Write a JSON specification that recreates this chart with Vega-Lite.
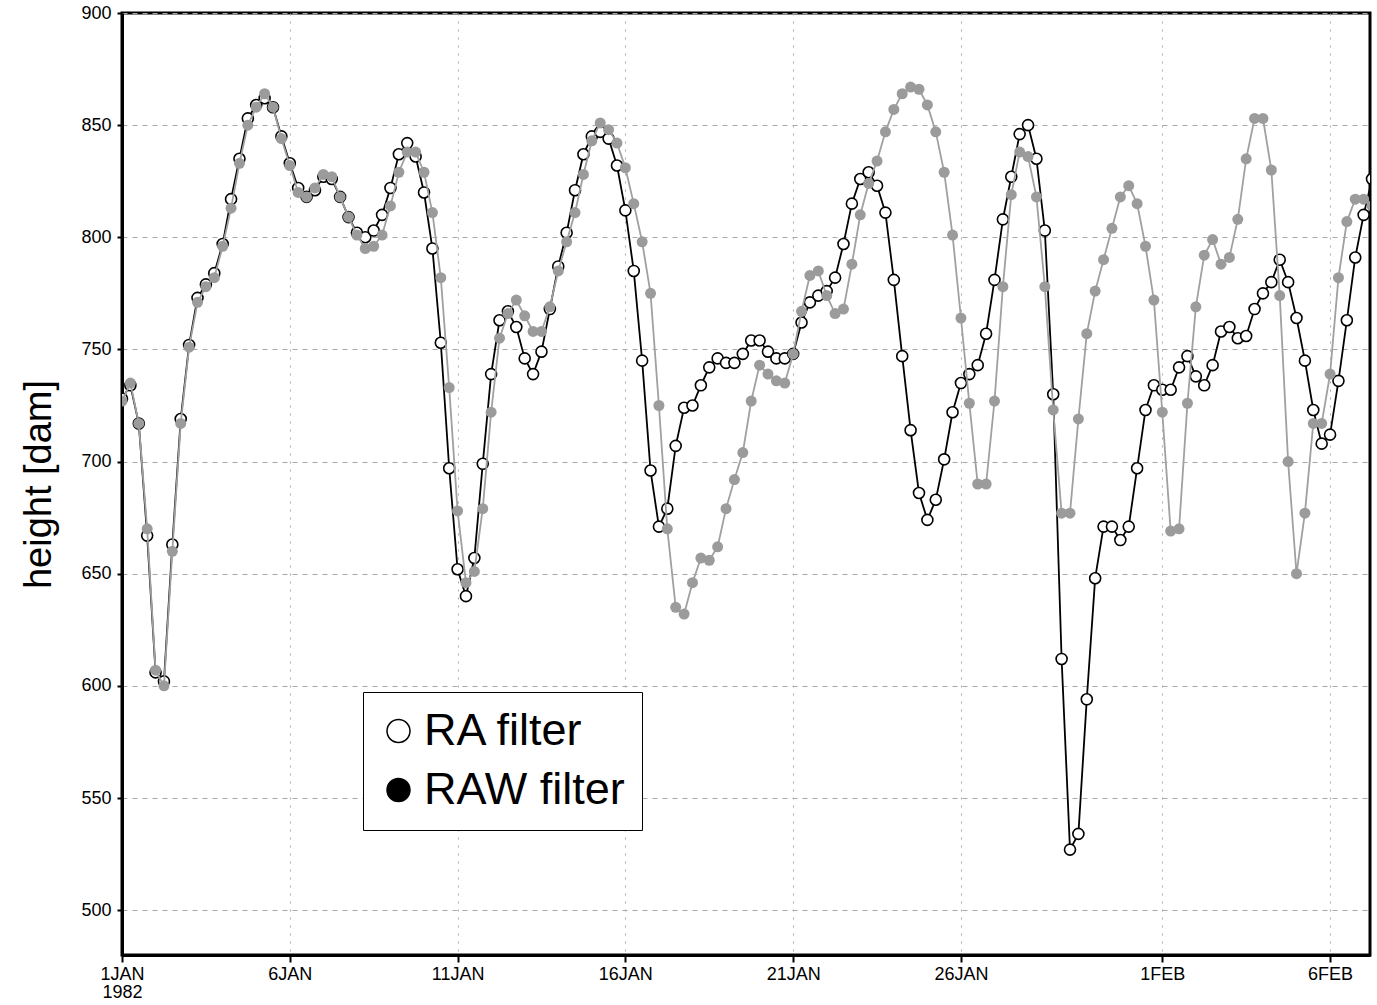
{
  "$schema": "https://vega.github.io/schema/vega-lite/v6.json",
  "width": 1248,
  "height": 942,
  "autosize": "none",
  "padding": {"left": 122, "top": 13, "right": 7, "bottom": 50},
  "background": "white",
  "config": {
    "font": "Liberation Sans",
    "view": {"stroke": "black", "strokeWidth": 3},
    "axis": {
      "domainColor": "black", "domainWidth": 3, "tickColor": "black", "tickWidth": 2,
      "labelColor": "black", "labelFont": "Liberation Sans", "labelFontSize": 18,
      "gridColor": "#a8a8a8", "gridWidth": 1
    }
  },
  "data": {"values": [
{"t":0,"s":"RA filter","h":728},{"t":0.25,"s":"RA filter","h":734},{"t":0.5,"s":"RA filter","h":717},{"t":0.75,"s":"RA filter","h":667},{"t":1,"s":"RA filter","h":606},{"t":1.25,"s":"RA filter","h":602},{"t":1.5,"s":"RA filter","h":663},{"t":1.75,"s":"RA filter","h":719},{"t":2,"s":"RA filter","h":752},{"t":2.25,"s":"RA filter","h":773},
{"t":2.5,"s":"RA filter","h":779},{"t":2.75,"s":"RA filter","h":784},{"t":3,"s":"RA filter","h":797},{"t":3.25,"s":"RA filter","h":817},{"t":3.5,"s":"RA filter","h":835},{"t":3.75,"s":"RA filter","h":853},{"t":4,"s":"RA filter","h":859},{"t":4.25,"s":"RA filter","h":862},{"t":4.5,"s":"RA filter","h":858},{"t":4.75,"s":"RA filter","h":845},
{"t":5,"s":"RA filter","h":833},{"t":5.25,"s":"RA filter","h":822},{"t":5.5,"s":"RA filter","h":818},{"t":5.75,"s":"RA filter","h":821},{"t":6,"s":"RA filter","h":827},{"t":6.25,"s":"RA filter","h":826},{"t":6.5,"s":"RA filter","h":818},{"t":6.75,"s":"RA filter","h":809},{"t":7,"s":"RA filter","h":802},{"t":7.25,"s":"RA filter","h":800},
{"t":7.5,"s":"RA filter","h":803},{"t":7.75,"s":"RA filter","h":810},{"t":8,"s":"RA filter","h":822},{"t":8.25,"s":"RA filter","h":837},{"t":8.5,"s":"RA filter","h":842},{"t":8.75,"s":"RA filter","h":836},{"t":9,"s":"RA filter","h":820},{"t":9.25,"s":"RA filter","h":795},{"t":9.5,"s":"RA filter","h":753},{"t":9.75,"s":"RA filter","h":697},
{"t":10,"s":"RA filter","h":652},{"t":10.25,"s":"RA filter","h":640},{"t":10.5,"s":"RA filter","h":657},{"t":10.75,"s":"RA filter","h":699},{"t":11,"s":"RA filter","h":739},{"t":11.25,"s":"RA filter","h":763},{"t":11.5,"s":"RA filter","h":767},{"t":11.75,"s":"RA filter","h":760},{"t":12,"s":"RA filter","h":746},{"t":12.25,"s":"RA filter","h":739},
{"t":12.5,"s":"RA filter","h":749},{"t":12.75,"s":"RA filter","h":768},{"t":13,"s":"RA filter","h":787},{"t":13.25,"s":"RA filter","h":802},{"t":13.5,"s":"RA filter","h":821},{"t":13.75,"s":"RA filter","h":837},{"t":14,"s":"RA filter","h":845},{"t":14.25,"s":"RA filter","h":847},{"t":14.5,"s":"RA filter","h":844},{"t":14.75,"s":"RA filter","h":832},
{"t":15,"s":"RA filter","h":812},{"t":15.25,"s":"RA filter","h":785},{"t":15.5,"s":"RA filter","h":745},{"t":15.75,"s":"RA filter","h":696},{"t":16,"s":"RA filter","h":671},{"t":16.25,"s":"RA filter","h":679},{"t":16.5,"s":"RA filter","h":707},{"t":16.75,"s":"RA filter","h":724},{"t":17,"s":"RA filter","h":725},{"t":17.25,"s":"RA filter","h":734},
{"t":17.5,"s":"RA filter","h":742},{"t":17.75,"s":"RA filter","h":746},{"t":18,"s":"RA filter","h":744},{"t":18.25,"s":"RA filter","h":744},{"t":18.5,"s":"RA filter","h":748},{"t":18.75,"s":"RA filter","h":754},{"t":19,"s":"RA filter","h":754},{"t":19.25,"s":"RA filter","h":749},{"t":19.5,"s":"RA filter","h":746},{"t":19.75,"s":"RA filter","h":746},
{"t":20,"s":"RA filter","h":748},{"t":20.25,"s":"RA filter","h":762},{"t":20.5,"s":"RA filter","h":771},{"t":20.75,"s":"RA filter","h":774},{"t":21,"s":"RA filter","h":776},{"t":21.25,"s":"RA filter","h":782},{"t":21.5,"s":"RA filter","h":797},{"t":21.75,"s":"RA filter","h":815},{"t":22,"s":"RA filter","h":826},{"t":22.25,"s":"RA filter","h":829},
{"t":22.5,"s":"RA filter","h":823},{"t":22.75,"s":"RA filter","h":811},{"t":23,"s":"RA filter","h":781},{"t":23.25,"s":"RA filter","h":747},{"t":23.5,"s":"RA filter","h":714},{"t":23.75,"s":"RA filter","h":686},{"t":24,"s":"RA filter","h":674},{"t":24.25,"s":"RA filter","h":683},{"t":24.5,"s":"RA filter","h":701},{"t":24.75,"s":"RA filter","h":722},
{"t":25,"s":"RA filter","h":735},{"t":25.25,"s":"RA filter","h":739},{"t":25.5,"s":"RA filter","h":743},{"t":25.75,"s":"RA filter","h":757},{"t":26,"s":"RA filter","h":781},{"t":26.25,"s":"RA filter","h":808},{"t":26.5,"s":"RA filter","h":827},{"t":26.75,"s":"RA filter","h":846},{"t":27,"s":"RA filter","h":850},{"t":27.25,"s":"RA filter","h":835},
{"t":27.5,"s":"RA filter","h":803},{"t":27.75,"s":"RA filter","h":730},{"t":28,"s":"RA filter","h":612},{"t":28.25,"s":"RA filter","h":527},{"t":28.5,"s":"RA filter","h":534},{"t":28.75,"s":"RA filter","h":594},{"t":29,"s":"RA filter","h":648},{"t":29.25,"s":"RA filter","h":671},{"t":29.5,"s":"RA filter","h":671},{"t":29.75,"s":"RA filter","h":665},
{"t":30,"s":"RA filter","h":671},{"t":30.25,"s":"RA filter","h":697},{"t":30.5,"s":"RA filter","h":723},{"t":30.75,"s":"RA filter","h":734},{"t":31,"s":"RA filter","h":732},{"t":31.25,"s":"RA filter","h":732},{"t":31.5,"s":"RA filter","h":742},{"t":31.75,"s":"RA filter","h":747},{"t":32,"s":"RA filter","h":738},{"t":32.25,"s":"RA filter","h":734},
{"t":32.5,"s":"RA filter","h":743},{"t":32.75,"s":"RA filter","h":758},{"t":33,"s":"RA filter","h":760},{"t":33.25,"s":"RA filter","h":755},{"t":33.5,"s":"RA filter","h":756},{"t":33.75,"s":"RA filter","h":768},{"t":34,"s":"RA filter","h":775},{"t":34.25,"s":"RA filter","h":780},{"t":34.5,"s":"RA filter","h":790},{"t":34.75,"s":"RA filter","h":780},
{"t":35,"s":"RA filter","h":764},{"t":35.25,"s":"RA filter","h":745},{"t":35.5,"s":"RA filter","h":723},{"t":35.75,"s":"RA filter","h":708},{"t":36,"s":"RA filter","h":712},{"t":36.25,"s":"RA filter","h":736},{"t":36.5,"s":"RA filter","h":763},{"t":36.75,"s":"RA filter","h":791},{"t":37,"s":"RA filter","h":810},{"t":37.25,"s":"RA filter","h":826},
{"t":0,"s":"RAW filter","h":727},{"t":0.25,"s":"RAW filter","h":735},{"t":0.5,"s":"RAW filter","h":717},{"t":0.75,"s":"RAW filter","h":670},{"t":1,"s":"RAW filter","h":607},{"t":1.25,"s":"RAW filter","h":600},{"t":1.5,"s":"RAW filter","h":660},{"t":1.75,"s":"RAW filter","h":717},{"t":2,"s":"RAW filter","h":751},{"t":2.25,"s":"RAW filter","h":771},
{"t":2.5,"s":"RAW filter","h":778},{"t":2.75,"s":"RAW filter","h":782},{"t":3,"s":"RAW filter","h":796},{"t":3.25,"s":"RAW filter","h":813},{"t":3.5,"s":"RAW filter","h":833},{"t":3.75,"s":"RAW filter","h":850},{"t":4,"s":"RAW filter","h":858},{"t":4.25,"s":"RAW filter","h":864},{"t":4.5,"s":"RAW filter","h":858},{"t":4.75,"s":"RAW filter","h":844},
{"t":5,"s":"RAW filter","h":832},{"t":5.25,"s":"RAW filter","h":820},{"t":5.5,"s":"RAW filter","h":818},{"t":5.75,"s":"RAW filter","h":822},{"t":6,"s":"RAW filter","h":828},{"t":6.25,"s":"RAW filter","h":827},{"t":6.5,"s":"RAW filter","h":818},{"t":6.75,"s":"RAW filter","h":809},{"t":7,"s":"RAW filter","h":801},{"t":7.25,"s":"RAW filter","h":795},
{"t":7.5,"s":"RAW filter","h":796},{"t":7.75,"s":"RAW filter","h":801},{"t":8,"s":"RAW filter","h":814},{"t":8.25,"s":"RAW filter","h":829},{"t":8.5,"s":"RAW filter","h":838},{"t":8.75,"s":"RAW filter","h":838},{"t":9,"s":"RAW filter","h":829},{"t":9.25,"s":"RAW filter","h":811},{"t":9.5,"s":"RAW filter","h":782},{"t":9.75,"s":"RAW filter","h":733},
{"t":10,"s":"RAW filter","h":678},{"t":10.25,"s":"RAW filter","h":646},{"t":10.5,"s":"RAW filter","h":651},{"t":10.75,"s":"RAW filter","h":679},{"t":11,"s":"RAW filter","h":722},{"t":11.25,"s":"RAW filter","h":755},{"t":11.5,"s":"RAW filter","h":766},{"t":11.75,"s":"RAW filter","h":772},{"t":12,"s":"RAW filter","h":765},{"t":12.25,"s":"RAW filter","h":758},
{"t":12.5,"s":"RAW filter","h":758},{"t":12.75,"s":"RAW filter","h":769},{"t":13,"s":"RAW filter","h":785},{"t":13.25,"s":"RAW filter","h":798},{"t":13.5,"s":"RAW filter","h":811},{"t":13.75,"s":"RAW filter","h":828},{"t":14,"s":"RAW filter","h":843},{"t":14.25,"s":"RAW filter","h":851},{"t":14.5,"s":"RAW filter","h":848},{"t":14.75,"s":"RAW filter","h":842},
{"t":15,"s":"RAW filter","h":831},{"t":15.25,"s":"RAW filter","h":815},{"t":15.5,"s":"RAW filter","h":798},{"t":15.75,"s":"RAW filter","h":775},{"t":16,"s":"RAW filter","h":725},{"t":16.25,"s":"RAW filter","h":670},{"t":16.5,"s":"RAW filter","h":635},{"t":16.75,"s":"RAW filter","h":632},{"t":17,"s":"RAW filter","h":646},{"t":17.25,"s":"RAW filter","h":657},
{"t":17.5,"s":"RAW filter","h":656},{"t":17.75,"s":"RAW filter","h":662},{"t":18,"s":"RAW filter","h":679},{"t":18.25,"s":"RAW filter","h":692},{"t":18.5,"s":"RAW filter","h":704},{"t":18.75,"s":"RAW filter","h":727},{"t":19,"s":"RAW filter","h":743},{"t":19.25,"s":"RAW filter","h":739},{"t":19.5,"s":"RAW filter","h":736},{"t":19.75,"s":"RAW filter","h":735},
{"t":20,"s":"RAW filter","h":748},{"t":20.25,"s":"RAW filter","h":767},{"t":20.5,"s":"RAW filter","h":783},{"t":20.75,"s":"RAW filter","h":785},{"t":21,"s":"RAW filter","h":774},{"t":21.25,"s":"RAW filter","h":766},{"t":21.5,"s":"RAW filter","h":768},{"t":21.75,"s":"RAW filter","h":788},{"t":22,"s":"RAW filter","h":810},{"t":22.25,"s":"RAW filter","h":824},
{"t":22.5,"s":"RAW filter","h":834},{"t":22.75,"s":"RAW filter","h":847},{"t":23,"s":"RAW filter","h":857},{"t":23.25,"s":"RAW filter","h":864},{"t":23.5,"s":"RAW filter","h":867},{"t":23.75,"s":"RAW filter","h":866},{"t":24,"s":"RAW filter","h":859},{"t":24.25,"s":"RAW filter","h":847},{"t":24.5,"s":"RAW filter","h":829},{"t":24.75,"s":"RAW filter","h":801},
{"t":25,"s":"RAW filter","h":764},{"t":25.25,"s":"RAW filter","h":726},{"t":25.5,"s":"RAW filter","h":690},{"t":25.75,"s":"RAW filter","h":690},{"t":26,"s":"RAW filter","h":727},{"t":26.25,"s":"RAW filter","h":778},{"t":26.5,"s":"RAW filter","h":819},{"t":26.75,"s":"RAW filter","h":838},{"t":27,"s":"RAW filter","h":836},{"t":27.25,"s":"RAW filter","h":818},
{"t":27.5,"s":"RAW filter","h":778},{"t":27.75,"s":"RAW filter","h":723},{"t":28,"s":"RAW filter","h":677},{"t":28.25,"s":"RAW filter","h":677},{"t":28.5,"s":"RAW filter","h":719},{"t":28.75,"s":"RAW filter","h":757},{"t":29,"s":"RAW filter","h":776},{"t":29.25,"s":"RAW filter","h":790},{"t":29.5,"s":"RAW filter","h":804},{"t":29.75,"s":"RAW filter","h":818},
{"t":30,"s":"RAW filter","h":823},{"t":30.25,"s":"RAW filter","h":815},{"t":30.5,"s":"RAW filter","h":796},{"t":30.75,"s":"RAW filter","h":772},{"t":31,"s":"RAW filter","h":722},{"t":31.25,"s":"RAW filter","h":669},{"t":31.5,"s":"RAW filter","h":670},{"t":31.75,"s":"RAW filter","h":726},{"t":32,"s":"RAW filter","h":769},{"t":32.25,"s":"RAW filter","h":792},
{"t":32.5,"s":"RAW filter","h":799},{"t":32.75,"s":"RAW filter","h":788},{"t":33,"s":"RAW filter","h":791},{"t":33.25,"s":"RAW filter","h":808},{"t":33.5,"s":"RAW filter","h":835},{"t":33.75,"s":"RAW filter","h":853},{"t":34,"s":"RAW filter","h":853},{"t":34.25,"s":"RAW filter","h":830},{"t":34.5,"s":"RAW filter","h":774},{"t":34.75,"s":"RAW filter","h":700},
{"t":35,"s":"RAW filter","h":650},{"t":35.25,"s":"RAW filter","h":677},{"t":35.5,"s":"RAW filter","h":717},{"t":35.75,"s":"RAW filter","h":717},{"t":36,"s":"RAW filter","h":739},{"t":36.25,"s":"RAW filter","h":782},{"t":36.5,"s":"RAW filter","h":807},{"t":36.75,"s":"RAW filter","h":817},{"t":37,"s":"RAW filter","h":817},{"t":37.25,"s":"RAW filter","h":814}
  ]},
  "encoding": {
    "x": {
      "field": "t", "type": "quantitative",
      "scale": {"domain": [0, 37.19], "nice": false, "zero": false},
      "axis": {
        "values": [0, 5, 10, 15, 20, 25, 31, 36],
        "title": null,
        "labelExpr": "datum.value == 0 ? ['1JAN', '1982'] : (datum.value < 31 ? (datum.value + 1) + 'JAN' : (datum.value - 30) + 'FEB')",
        "tickSize": 7, "labelPadding": 3, "labelLineHeight": 18,
        "grid": true, "gridDash": [2, 6],
        "labelFlush": false, "labelOverlap": false, "labelBound": false
      }
    },
    "y": {
      "field": "h", "type": "quantitative",
      "scale": {"domain": [480, 900], "nice": false, "zero": false},
      "axis": {
        "values": [500, 550, 600, 650, 700, 750, 800, 850, 900],
        "title": "height  [dam]",
        "titleFont": "Liberation Sans", "titleFontSize": 38, "titleFontWeight": "normal",
        "titleColor": "black", "titlePadding": 22,
        "tickSize": 5, "labelPadding": 6,
        "grid": true, "gridDash": [5, 5]
      }
    }
  },
  "layer": [
    {
      "transform": [{"filter": "datum.s === 'RA filter'"}],
      "mark": {"type": "line", "clip": true, "strokeWidth": 1.8, "color": "black"},
      "encoding": {}
    },
    {
      "transform": [{"filter": "datum.s === 'RA filter'"}],
      "mark": {"type": "point", "shape": "circle", "filled": true, "clip": true, "size": 121, "fill": "white", "stroke": "black", "strokeWidth": 1.6, "opacity": 1},
      "encoding": {}
    },
    {
      "transform": [{"filter": "datum.s === 'RAW filter'"}],
      "mark": {"type": "line", "clip": true, "strokeWidth": 1.8, "color": "#a0a0a0"},
      "encoding": {}
    },
    {
      "transform": [{"filter": "datum.s === 'RAW filter'"}],
      "mark": {"type": "point", "shape": "circle", "filled": true, "clip": true, "size": 121, "fill": "#9b9b9b", "strokeWidth": 0, "opacity": 1},
      "encoding": {}
    },
    {
      "transform": [{"filter": "datum.s === 'none'"}],
      "mark": {"type": "point", "shape": "circle", "filled": true, "stroke": "black", "strokeWidth": 1.5, "opacity": 1},
      "encoding": {
        "fill": {
          "field": "s", "type": "nominal",
          "scale": {"domain": ["RA filter", "RAW filter"], "range": ["white", "black"]},
          "legend": {
            "title": null, "orient": "none", "legendX": 241, "legendY": 679,
            "direction": "vertical", "symbolType": "circle", "symbolSize": 529,
            "symbolStrokeWidth": 1.5, "symbolOffset": -3.5, "symbolOpacity": 1,
            "labelFont": "Liberation Sans", "labelFontSize": 45, "labelColor": "black",
            "labelOffset": 3, "labelLimit": 500, "rowPadding": 13, "padding": 16.5,
            "labelExpr": "datum.label + '\u00a0'",
            "strokeColor": "black", "fillColor": "white",
            "encode": {"legend": {"strokeWidth": {"value": 2}}}
          }
        }
      }
    }
  ]
}
